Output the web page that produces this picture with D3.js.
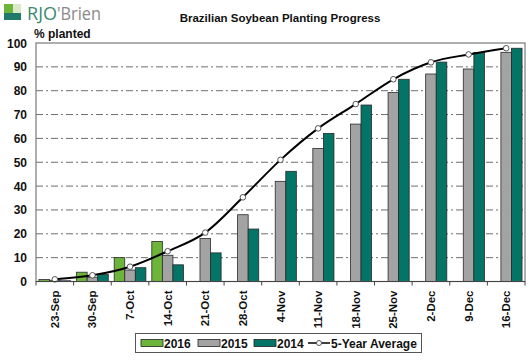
<!DOCTYPE html>
<html><head><meta charset="utf-8">
<script src="https://cdn.jsdelivr.net/npm/d3@7"></script>
<style>body{margin:0;background:#fff;}svg{display:block;}</style>
</head><body>
<svg id="c" width="532" height="362"></svg>
<script>
const categories = ["23-Sep","30-Sep","7-Oct","14-Oct","21-Oct","28-Oct","4-Nov","11-Nov","18-Nov","25-Nov","2-Dec","9-Dec","16-Dec"];
const s2016 = [0.8, 3.9, 10, 16.8, null, null, null, null, null, null, null, null, null];
const s2015 = [0.5, 1.8, 4.8, 11, 18, 28, 42, 55.8, 66, 79.2, 87, 89.1, 96.1];
const s2014 = [0.3, 3, 5.8, 7, 12, 22, 46.2, 62.1, 74, 84.8, 92, 96, 97.8];
const avg5 = [0.9, 2.6, 6.2, 12.7, 20.5, 35.3, 51, 64.2, 74.4, 84.8, 91.9, 95.2, 97.8];
const yTicks = [0,10,20,30,40,50,60,70,80,90,100];
const seriesNames = ["2016","2015","2014"];
const colors = {"2016":"#6db43b","2015":"#a3a3a3","2014":"#037466"};

const svg = d3.select("#c");
const M = {l:36, r:525, t:43, b:281.5};
const x = d3.scaleBand().domain(categories).range([M.l, M.r]).paddingInner(0).paddingOuter(0);
const y = d3.scaleLinear().domain([0,100]).range([M.b, M.t]);
const xs = d3.scaleBand().domain(seriesNames).range([0, x.bandwidth()]).paddingInner(0).paddingOuter(0.28);
const font = "Arial, 'Liberation Sans', sans-serif";

// grid
svg.append("g").selectAll("line").data(yTicks.filter(d=>d>0 && d<100)).join("line")
  .attr("x1", M.l).attr("x2", M.r).attr("y1", d=>y(d)).attr("y2", d=>y(d))
  .attr("stroke", "#6e6e6e").attr("stroke-width", 1).attr("stroke-dasharray", "7,3,2,3");

// bars
const data = [s2016, s2015, s2014];
seriesNames.forEach((nm, si) => {
  svg.append("g").selectAll("rect").data(categories.map((c,i)=>({c, v:data[si][i]})).filter(d=>d.v!=null)).join("rect")
    .attr("x", d=>x(d.c)+xs(nm)).attr("width", xs.bandwidth())
    .attr("y", d=>y(d.v)).attr("height", d=>y(0)-y(d.v))
    .attr("fill", colors[nm]).attr("stroke", "#2a2a2a").attr("stroke-width", 0.8);
});

// line
const line = d3.line().x((d,i)=>x(categories[i])+x.bandwidth()/2).y(d=>y(d)).curve(d3.curveMonotoneX);
svg.append("path").datum(avg5).attr("d", line).attr("fill","none").attr("stroke","#000").attr("stroke-width",2);
svg.append("g").selectAll("circle").data(avg5).join("circle")
  .attr("cx",(d,i)=>x(categories[i])+x.bandwidth()/2).attr("cy", d=>y(d)).attr("r",2.8)
  .attr("fill","#fff").attr("stroke","#555").attr("stroke-width",1);

// plot border
svg.append("rect").attr("x",M.l).attr("y",M.t).attr("width",M.r-M.l).attr("height",M.b-M.t)
  .attr("fill","none").attr("stroke","#7a7a7a").attr("stroke-width",1.2);

// x axis ticks
const xb = categories.map(c=>x(c)).concat([M.r]);
svg.append("g").selectAll("line").data(xb).join("line")
  .attr("x1",d=>d).attr("x2",d=>d).attr("y1",M.b).attr("y2",M.b+4).attr("stroke","#444").attr("stroke-width",1);
svg.append("line").attr("x1",M.l).attr("x2",M.r).attr("y1",M.b).attr("y2",M.b).attr("stroke","#444").attr("stroke-width",1.2);

// x labels
svg.append("g").selectAll("text").data(categories).join("text")
  .attr("transform", d=>`translate(${x(d)+x.bandwidth()/2+4},${M.b+9}) rotate(-90)`)
  .attr("text-anchor","end").attr("font-family",font).attr("font-weight","bold").attr("font-size",11.5)
  .attr("fill","#111").text(d=>d);

// y labels
svg.append("g").selectAll("text").data(yTicks).join("text")
  .attr("x", 27).attr("y", d=>y(d)+4.5).attr("text-anchor","end")
  .attr("font-family",font).attr("font-weight","bold").attr("font-size",12).attr("fill","#111").text(d=>d);

// title
svg.append("text").attr("x",280).attr("y",22).attr("text-anchor","middle").attr("font-family",font)
  .attr("font-weight","bold").attr("font-size",11.5).attr("fill","#111").text("Brazilian Soybean Planting Progress");
svg.append("text").attr("x",34).attr("y",38).attr("font-family",font)
  .attr("font-weight","bold").attr("font-size",12).attr("fill","#111").text("% planted");

// logo
const lg = svg.append("g");
lg.append("rect").attr("x",4).attr("y",4).attr("width",17).attr("height",16).attr("fill","#6db43b");
lg.append("rect").attr("x",13).attr("y",4).attr("width",8).attr("height",9).attr("fill","#d8e8c8");
lg.append("rect").attr("x",4).attr("y",13).attr("width",17).attr("height",7).attr("fill","#1f7a6a");
const t1 = lg.append("text").attr("x",27).attr("y",20).attr("font-family","'Open Sans', sans-serif").attr("font-size",18)
  .attr("fill","#3b8a6e").attr("textLength",30).attr("lengthAdjust","spacingAndGlyphs").text("RJO");
lg.append("text").attr("x",57).attr("y",20).attr("font-family","'Open Sans', sans-serif").attr("font-size",18)
  .attr("fill","#8a8a8a").attr("textLength",44).attr("lengthAdjust","spacingAndGlyphs").text("'Brien");

// legend
const leg = svg.append("g");
leg.append("rect").attr("x",135.5).attr("y",333.5).attr("width",286).attr("height",19)
  .attr("fill","#fff").attr("stroke","#555").attr("stroke-width",1);
const legItems = [{n:"2016",x:141},{n:"2015",x:198},{n:"2014",x:254}];
legItems.forEach(it=>{
  leg.append("rect").attr("x",it.x).attr("y",339.5).attr("width",22).attr("height",7)
    .attr("fill",colors[it.n]).attr("stroke","#222").attr("stroke-width",0.8);
  leg.append("text").attr("x",it.x+23).attr("y",347.5).attr("font-family",font).attr("font-weight","bold")
    .attr("font-size",12).attr("fill","#111").text(it.n);
});
leg.append("line").attr("x1",308).attr("x2",330).attr("y1",343).attr("y2",343).attr("stroke","#000").attr("stroke-width",1.5);
leg.append("circle").attr("cx",319).attr("cy",343).attr("r",2.5).attr("fill","#fff").attr("stroke","#555");
leg.append("text").attr("x",331).attr("y",347.5).attr("font-family",font).attr("font-weight","bold")
  .attr("font-size",12).attr("fill","#111").text("5-Year Average");
</script>
</body></html>
